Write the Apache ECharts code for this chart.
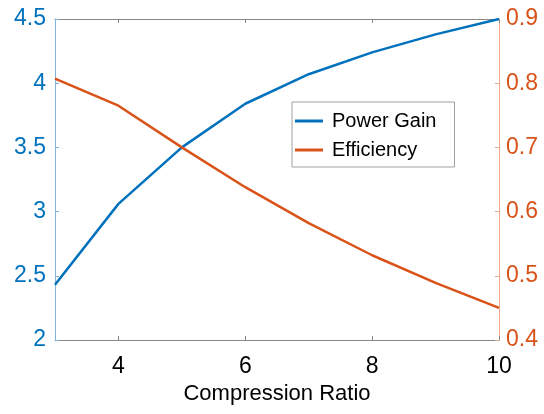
<!DOCTYPE html>
<html><head><meta charset="utf-8">
<script src="https://cdn.jsdelivr.net/npm/echarts@6/dist/echarts.min.js"></script>
<style>html,body{margin:0;padding:0;background:#fff}#c{width:544px;height:414px}</style>
</head><body><div id="c"></div>
<script>
const ratios = [3, 4, 5, 6, 7, 8, 9, 10];
const powerGain = [2.43, 3.06, 3.50, 3.84, 4.07, 4.24, 4.38, 4.50];
const efficiency = [0.807, 0.765, 0.700, 0.638, 0.582, 0.532, 0.489, 0.450];
const xTicks = [4, 6, 8, 10];
const seriesNames = ['Power Gain', 'Efficiency'];
const xTitle = 'Compression Ratio';

const BLUE = '#0072BD', ORANGE = '#D95319';
const font = 'Liberation Sans, Arial, sans-serif';
const chart = echarts.init(document.getElementById('c'));
chart.setOption({
  animation: false,
  backgroundColor: '#fff',
  grid: {left: 55, right: 45, top: 19, bottom: 74, containLabel: false},
  legend: {
    left: 292, top: 102, orient: 'vertical',
    backgroundColor: '#fff', borderColor: '#a0a0a0', borderWidth: 1,
    padding: [9, 18, 7, 3], itemGap: 9, itemWidth: 28, itemHeight: 3,
    icon: 'rect',
    textStyle: {fontFamily: font, fontSize: 20, color: '#000', padding: [0, 0, 0, 4]},
    data: seriesNames
  },
  xAxis: [{
    type: 'value', min: 3, max: 10,
    axisLabel: {fontFamily: font, fontSize: 23, color: '#000', margin: 15, customValues: xTicks},
    axisLine: {lineStyle: {color: '#888'}},
    axisTick: {inside: true, length: 4, lineStyle: {color: '#888'}, customValues: xTicks},
    splitLine: {show: false},
    name: xTitle, nameLocation: 'middle', nameGap: 41,
    nameTextStyle: {fontFamily: font, fontSize: 22, color: '#000'}
  }, {
    type: 'value', min: 3, max: 10, position: 'top',
    axisLabel: {show: false, customValues: xTicks},
    axisLine: {show: true, lineStyle: {color: '#888'}},
    axisTick: {inside: true, length: 4, lineStyle: {color: '#888'}, customValues: xTicks},
    splitLine: {show: false}
  }],
  yAxis: [{
    type: 'value', min: 2, max: 4.5, interval: 0.5, position: 'left',
    axisLabel: {fontFamily: font, fontSize: 23, color: BLUE, margin: 9},
    axisLine: {show: true, lineStyle: {color: '#7fb3de'}},
    axisTick: {show: true, inside: true, length: 4, lineStyle: {color: '#7fb3de'}},
    splitLine: {show: false}
  }, {
    type: 'value', min: 0.4, max: 0.9, interval: 0.1, position: 'right',
    axisLabel: {fontFamily: font, fontSize: 23, color: ORANGE, margin: 7,
      formatter: v => v.toFixed(1)},
    axisLine: {show: true, lineStyle: {color: '#eba98c'}},
    axisTick: {show: true, inside: true, length: 4, lineStyle: {color: '#eba98c'}},
    splitLine: {show: false}
  }],
  series: [{
    name: seriesNames[0], type: 'line', yAxisIndex: 0, xAxisIndex: 0,
    data: ratios.map((x, i) => [x, powerGain[i]]),
    symbol: 'none', lineStyle: {color: BLUE, width: 2.5}, itemStyle: {color: BLUE}
  }, {
    name: seriesNames[1], type: 'line', yAxisIndex: 1, xAxisIndex: 0,
    data: ratios.map((x, i) => [x, efficiency[i]]),
    symbol: 'none', lineStyle: {color: ORANGE, width: 2.5}, itemStyle: {color: ORANGE}
  }]
});
</script></body></html>
